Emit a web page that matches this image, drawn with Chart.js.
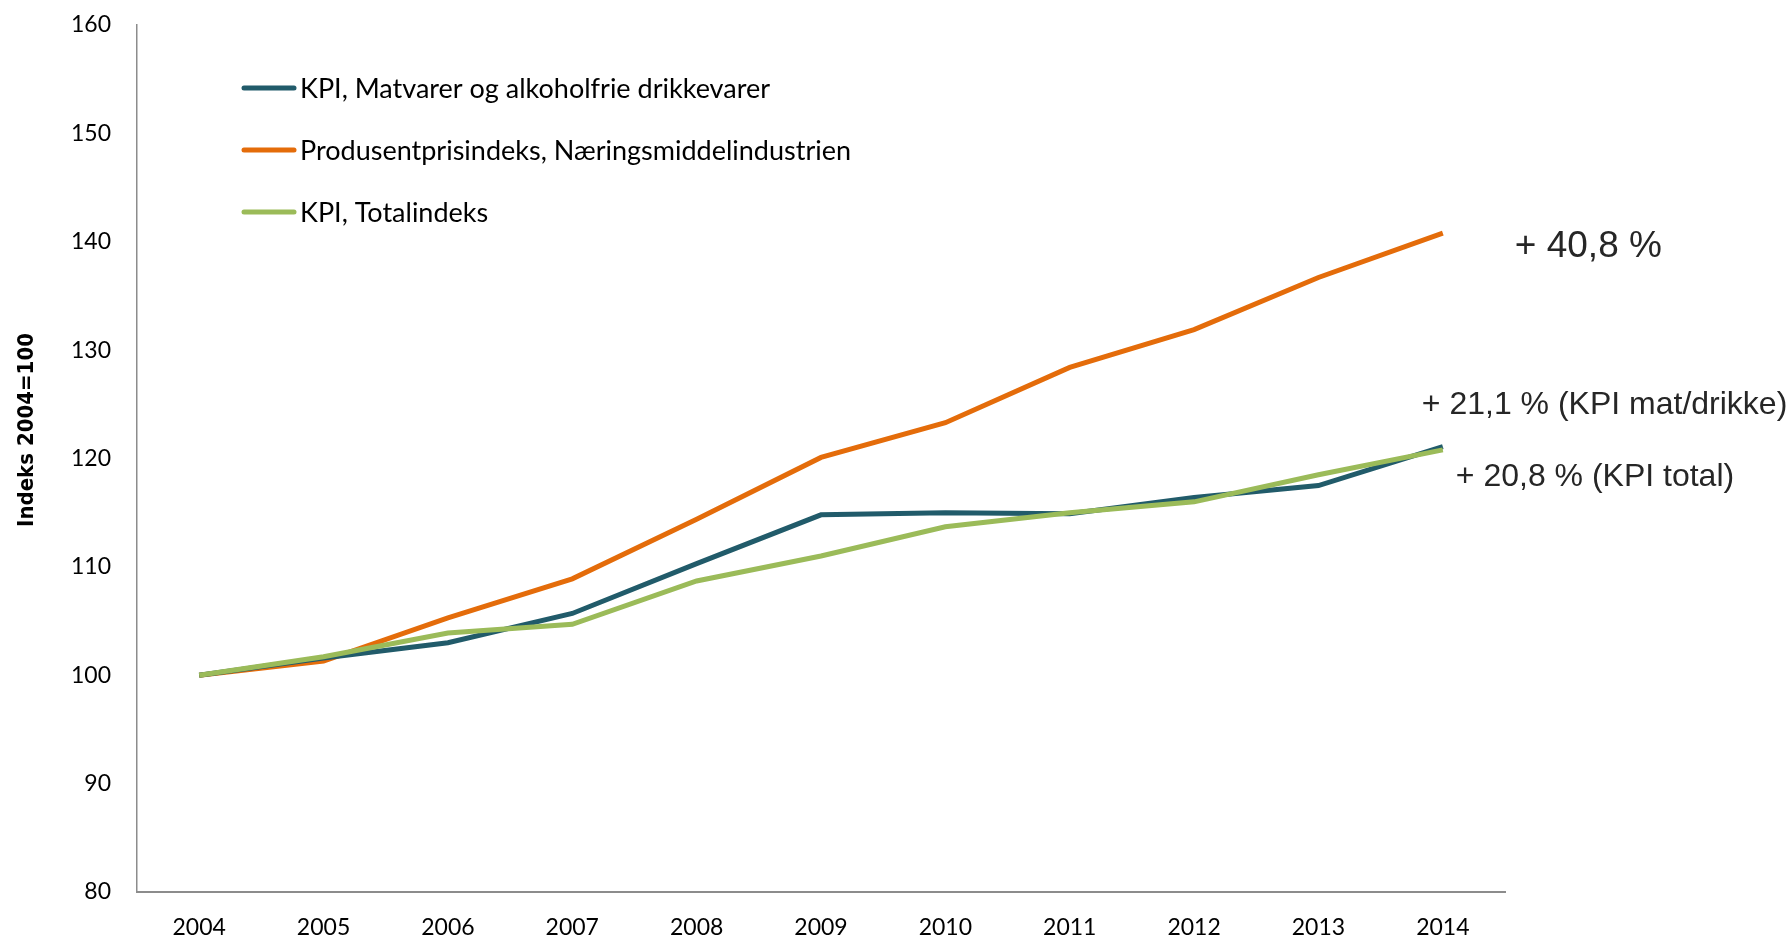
<!DOCTYPE html>
<html>
<head>
<meta charset="utf-8">
<script src="https://cdn.jsdelivr.net/npm/chart.js@4/dist/chart.umd.min.js"></script>
<style>
  html, body { margin: 0; padding: 0; background: #fff; }
  #wrap { width: 1790px; height: 940px; }
</style>
</head>
<body>
<div id="wrap"><canvas id="grafico"></canvas></div>
<script>
// data
const aar = ['2004', '2005', '2006', '2007', '2008', '2009', '2010', '2011', '2012', '2013', '2014']
const kpiMat = [100, 101.6, 103.0, 105.7, 110.3, 114.8, 115.0, 114.9, 116.4, 117.5, 121.1]
const ppiNaering = [100, 101.3, 105.3, 108.9, 114.4, 120.1, 123.3, 128.4, 131.9, 136.7, 140.8]
const kpiTotal = [100, 101.7, 103.9, 104.7, 108.7, 111.0, 113.7, 115.0, 116.0, 118.5, 120.8]

const navn = ['KPI, Matvarer og alkoholfrie drikkevarer', 'Produsentprisindeks, Næringsmiddelindustrien', 'KPI, Totalindeks']
const endringer = ['+ 21,1 % (KPI mat/drikke)', '+ 40,8 %', '+ 20,8 % (KPI total)']
const aksetittel = 'Indeks 2004=100'

const farger = ['#215B6A', '#E46C0A', '#9BBB59']

// legend inside the plot, axis title and text at line ends
const tegnTekst = {
    id: 'tegnTekst',
    afterDatasetsDraw(chart) {
        const ctx = chart.ctx
        ctx.save()
        // legend
        ctx.font = '27px Lato, "Open Sans", sans-serif'
        ctx.textBaseline = 'middle'
        ctx.textAlign = 'left'
        chart.data.datasets.forEach((ds, i) => {
            const y = 88 + i * 62
            ctx.strokeStyle = ds.borderColor
            ctx.lineWidth = 5
            ctx.lineCap = 'round'
            ctx.beginPath()
            ctx.moveTo(244, y)
            ctx.lineTo(294, y)
            ctx.stroke()
            ctx.fillStyle = '#000'
            ctx.fillText(ds.label, 300, y + 1)
        })

        // y-akse tittel
        ctx.save()
        ctx.translate(27, 430)
        ctx.rotate(-Math.PI / 2)
        ctx.textAlign = 'center'
        ctx.font = 'bold 22px "DejaVu Sans Condensed", "Liberation Sans Narrow", sans-serif'
        ctx.fillStyle = '#000'
        ctx.fillText(aksetittel, 0, 0)
        ctx.restore()

        // endringer ved 2014
        const xs = chart.scales.x
        const ys = chart.scales.y
        const xSiste = xs.getPixelForValue(aar.length - 1)
        ctx.fillStyle = '#262626'
        ctx.font = '37px "Liberation Sans", Arial, sans-serif'
        ctx.fillText(endringer[1], xSiste + 72, ys.getPixelForValue(ppiNaering[10]) + 14)
        ctx.font = '32px "Liberation Sans", Arial, sans-serif'
        ctx.fillText(endringer[0], xSiste - 21, ys.getPixelForValue(kpiMat[10]) - 41)
        ctx.fillText(endringer[2], xSiste + 13, ys.getPixelForValue(kpiTotal[10]) + 27)
        ctx.restore()
    }
}

let grafico = new Chart(document.getElementById('grafico'), {
    type: 'line',
    data: {
        labels: aar,
        datasets: [
            {
                label: navn[0],
                data: kpiMat,
                borderColor: farger[0],
                backgroundColor: farger[0],
                borderWidth: 5,
                pointRadius: 0,
                tension: 0,
                order: 1
            },
            {
                label: navn[1],
                data: ppiNaering,
                borderColor: farger[1],
                backgroundColor: farger[1],
                borderWidth: 5,
                pointRadius: 0,
                tension: 0,
                order: 2
            },
            {
                label: navn[2],
                data: kpiTotal,
                borderColor: farger[2],
                backgroundColor: farger[2],
                borderWidth: 5,
                pointRadius: 0,
                tension: 0,
                order: 0
            }
        ]
    },
    options: {
        responsive: true,
        maintainAspectRatio: false,
        animation: false,
        layout: {
            padding: { top: 25, right: 285, bottom: 0, left: 0 }
        },
        plugins: {
            legend: { display: false },
            tooltip: { enabled: false }
        },
        scales: {
            x: {
                offset: true,
                grid: { display: false, drawTicks: false },
                border: { display: true, color: '#8c8c8c', width: 2 },
                ticks: {
                    color: '#000',
                    padding: 22,
                    font: { family: 'Lato, "Open Sans", sans-serif', size: 23 }
                },
                afterFit(scale) {
                    scale.height = 48
                    scale.paddingLeft = 0
                    scale.paddingRight = 0
                }
            },
            y: {
                min: 80,
                max: 160,
                grid: { display: false, drawTicks: false },
                border: { display: true, color: '#8c8c8c', width: 1.5 },
                ticks: {
                    stepSize: 10,
                    color: '#000',
                    padding: 26,
                    font: { family: 'Lato, "Open Sans", sans-serif', size: 23 }
                },
                afterFit(scale) {
                    scale.width = 137
                    scale.paddingTop = 0
                    scale.paddingBottom = 0
                }
            }
        }
    },
    plugins: [tegnTekst]
})
</script>
</body>
</html>
